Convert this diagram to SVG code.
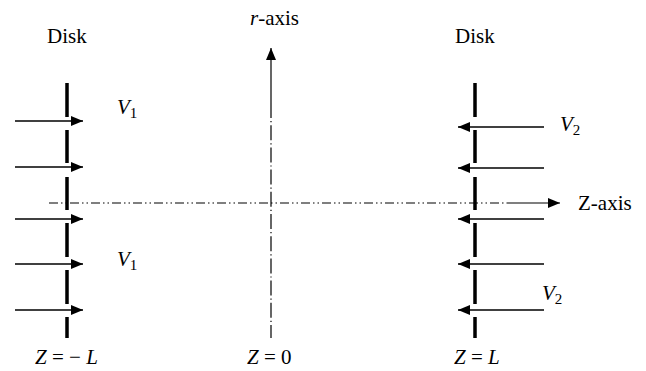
<svg xmlns="http://www.w3.org/2000/svg" width="646" height="371" viewBox="0 0 646 371">
<defs>
<marker id="ah" markerWidth="12" markerHeight="10" refX="12" refY="5" orient="auto" markerUnits="userSpaceOnUse">
<path d="M0,0 L12,5 L0,10 Z" fill="#000"/>
</marker>
<style>
text{font-size:21px;fill:#000}
.i{font-style:italic}
.sub{font-size:15px}
.disk{stroke:#000;stroke-width:3.5;fill:none}
.flow{stroke:#000;stroke-width:1.4;fill:none}
.axis{stroke:#000;stroke-width:1.2;fill:none}
.dd{stroke-dasharray:9 3 1.5 3 1.5 3}
.dot{stroke-dasharray:15 3 1.2 3}
</style>
</defs>
<rect width="646" height="371" fill="#fff"/>
<g font-family="Liberation Serif, DejaVu Serif, serif">
<g id="disk-left">
<path class="disk" d="M67,83V117M67,130V163M67,177V210M67,223V257M67,270V304M67,317V338"/>
<text x="47" y="43">Disk</text>
</g>
<g id="disk-right">
<path class="disk" d="M475,83V117M475,130V163M475,177V210M475,223V257M475,270V304M475,317V338"/>
<text x="455" y="43">Disk</text>
</g>
<g id="r-axis">
<text x="250" y="25"><tspan class="i">r</tspan>-axis</text>
</g>
<g id="z-axis">
<text x="578" y="210">Z-axis</text>
</g>
<g id="labels">
<text class="i" x="117" y="114">V<tspan class="sub" font-style="normal" dy="4">1</tspan></text>
<text class="i" x="117" y="266">V<tspan class="sub" font-style="normal" dy="4">1</tspan></text>
<text class="i" x="560" y="131">V<tspan class="sub" font-style="normal" dy="4">2</tspan></text>
<text class="i" x="542" y="300">V<tspan class="sub" font-style="normal" dy="4">2</tspan></text>
<text x="35" y="364"><tspan class="i">Z</tspan> = − <tspan class="i">L</tspan></text>
<text x="247" y="364"><tspan class="i">Z</tspan> = 0</text>
<text x="454" y="364"><tspan class="i">Z</tspan> = <tspan class="i">L</tspan></text>
</g>
</g>
<g id="connectors">
<path class="axis dd" d="M49,203H508"/>
<path class="axis" d="M508,203H560" marker-end="url(#ah)"/>
<path class="axis dot" d="M271,103V338"/>
<path class="axis" d="M271,103V48" marker-end="url(#ah)"/>
<path class="flow" d="M15,121H83" marker-end="url(#ah)"/>
<path class="flow" d="M15,167H83" marker-end="url(#ah)"/>
<path class="flow" d="M15,219H83" marker-end="url(#ah)"/>
<path class="flow" d="M15,264H83" marker-end="url(#ah)"/>
<path class="flow" d="M15,310H83" marker-end="url(#ah)"/>
<path class="flow" d="M544,127H458" marker-end="url(#ah)"/>
<path class="flow" d="M544,168H458" marker-end="url(#ah)"/>
<path class="flow" d="M544,219H458" marker-end="url(#ah)"/>
<path class="flow" d="M544,264H458" marker-end="url(#ah)"/>
<path class="flow" d="M544,310H458" marker-end="url(#ah)"/>
</g>
</svg>
